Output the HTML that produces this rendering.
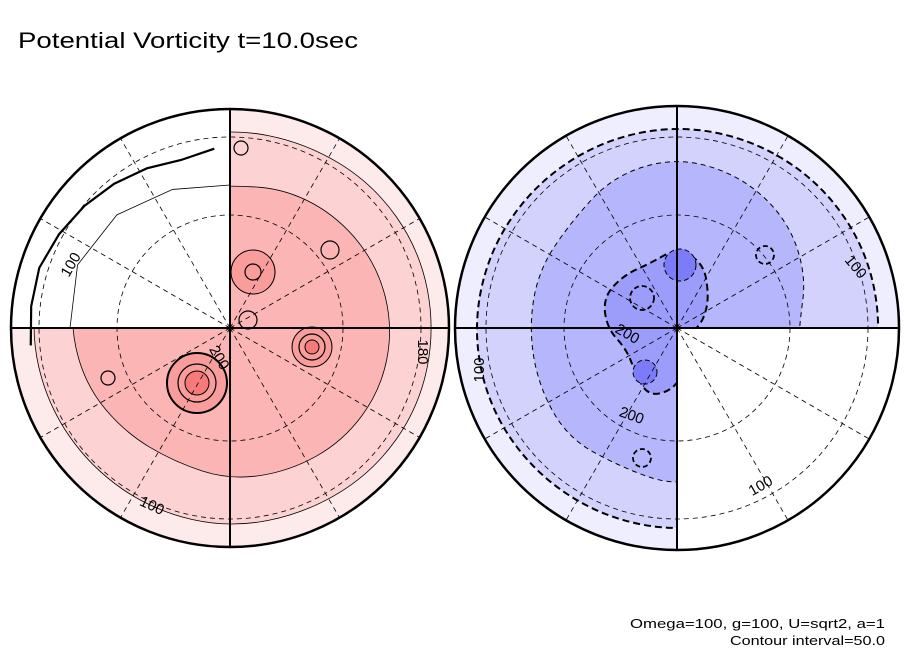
<!DOCTYPE html>
<html><head><meta charset="utf-8">
<style>
html,body{margin:0;padding:0;background:#fff;}
svg{display:block;font-family:"Liberation Sans",sans-serif;}
</style></head>
<body>
<svg id="c" width="904" height="654" viewBox="0 0 904 654">
<text x="18" y="48" font-size="22" textLength="340" lengthAdjust="spacingAndGlyphs">Potential Vorticity t=10.0sec</text>
<text x="885" y="628" font-size="13" text-anchor="end" textLength="255" lengthAdjust="spacingAndGlyphs">Omega=100, g=100, U=sqrt2, a=1</text>
<text x="885" y="645" font-size="13" text-anchor="end" textLength="155" lengthAdjust="spacingAndGlyphs">Contour interval=50.0</text>
<g id="left"></g>
<g id="right"></g>
</svg>
<script>
// contour levels and boundary radii (pixel radius sampled every 22.5 deg, ccw from east)
const levels = [100, 150, 200, 250, 300];
const leftOuter = [205,205,203,200,200,198,198,200,200,198,197,198,200,200,203,205];
const leftMid = [163,160,155,150,143,150,160,165,160,155,148,145,152,155,160,163];
const leftNW100 = [200,200,200,195,190,185,180,175,180];
const rightOuter = [205,205,204,203,203,202,202,203,204,204,203,203,204,204,205,205];
const rightMid = [122,140,155,165,171,165,150,150,148,150,155,150,159,150,140,130];
const rightInner = [20,30,45,70,80,70,75,80,70,55,60,75,60,30,15,15];
const leftBlobs = [[197,383,30,'#f99c9c'],[197,383,12,'#f77a7a'],[253,272,22,'#f99c9c'],[312,347,20,'#f99c9c'],[312,347,7,'#f77a7a']];
const rightBlobs = [[680,265,16,'#7c7cf8'],[645,372,12,'#7c7cf8']];
const rings = [[248,320,9],[330,250,9],[108,378,7],[253,272,8],[197,383,19],[312,347,13],[241,148,7]];
const rRings = [[642,298,12],[765,255,9],[838,378,16],[790,372,22],[642,458,9]];

const NS='http://www.w3.org/2000/svg';
function mk(tag,attrs,parent){const e=document.createElementNS(NS,tag);for(const k in attrs)e.setAttribute(k,attrs[k]);parent.appendChild(e);return e;}
function blobPath(cx,cy,rad){
  const n=rad.length,pts=[];
  for(let i=0;i<n;i++){const a=i*2*Math.PI/n;pts.push([cx+rad[i]*Math.cos(a),cy-rad[i]*Math.sin(a)]);}
  let d='';
  for(let i=0;i<n;i++){const p=pts[i],q=pts[(i+1)%n];const m=[(p[0]+q[0])/2,(p[1]+q[1])/2];
    if(i===0){const pm=pts[n-1];d+='M'+((pm[0]+p[0])/2)+','+((pm[1]+p[1])/2);}
    d+=' Q'+p[0]+','+p[1]+' '+m[0]+','+m[1];}
  return d+'Z';
}
function arcPath(cx,cy,rad,a0,a1){
  let d='';const n=rad.length;
  for(let i=0;i<n;i++){const a=(a0+(a1-a0)*i/(n-1))*Math.PI/180;
    d+=(i?' L':'M')+(cx+rad[i]*Math.cos(a))+','+(cy-rad[i]*Math.sin(a));}
  return d;
}
function panel(g,cx,cy,R,cols,outer,mid,inner,blobs,maskQuad,dashed,ringsList,labels,id){
  const defs=mk('defs',{},g);
  const cp=mk('clipPath',{id:'cp'+id},defs);mk('circle',{cx:cx,cy:cy,r:R},cp);
  const inner_g=mk('g',{'clip-path':'url(#cp'+id+')'},g);
  let e=mk('circle',{cx:cx,cy:cy,r:R,fill:cols[0]},inner_g);
  
  e=mk('path',{d:blobPath(cx,cy,outer),fill:cols[1],stroke:'#000','stroke-width':dashed?2:0.8,'stroke-dasharray':dashed?'7 4':'none'},inner_g);
  
  e=mk('path',{d:blobPath(cx,cy,mid),fill:cols[2],stroke:'#000','stroke-width':dashed?1:0.8,'stroke-dasharray':dashed?'5 4':'none'},inner_g);
  
  if(inner){e=mk('path',{d:blobPath(cx,cy,inner),fill:cols[3],stroke:'#000','stroke-width':2,'stroke-dasharray':'7 4'},inner_g);
    }
  blobs.forEach(b=>{const c=mk('circle',{cx:b[0],cy:b[1],r:b[2],fill:b[3],stroke:'#000','stroke-width':b[2]>25?2:1,'stroke-dasharray':dashed?'5 3':'none'},inner_g);
    });
  ringsList.forEach(b=>{const c=mk('circle',{cx:b[0],cy:b[1],r:b[2],fill:'none',stroke:'#000','stroke-width':dashed?1.8:1.2,'stroke-dasharray':dashed?'5 3':'none'},inner_g);
    });
  const qx=maskQuad[0]<0?cx-R:cx, qy=maskQuad[1]<0?cy-R:cy;
  e=mk('rect',{x:qx,y:qy,width:R,height:R,fill:'#fff'},inner_g);
  
  if(!dashed){
    e=mk('path',{d:arcPath(cx,cy,leftNW100,185,95),fill:'none',stroke:'#000','stroke-width':2.2},inner_g);
    
    e=mk('path',{d:arcPath(cx,cy,leftMid.slice(4,9),90,180),fill:'none',stroke:'#000','stroke-width':0.8},inner_g);
    
  }
  [113,191].forEach(r=>{const c=mk('circle',{cx:cx,cy:cy,r:r,fill:'none',stroke:'#000','stroke-width':0.8,'stroke-dasharray':'5 4'},g);
    });
  for(let a=30;a<360;a+=30){if(a%90===0)continue;const t=a*Math.PI/180;
    const l=mk('line',{x1:cx,y1:cy,x2:cx+R*Math.cos(t),y2:cy-R*Math.sin(t),stroke:'#000','stroke-width':0.8,'stroke-dasharray':'5 4'},g);
    }
  let l=mk('line',{x1:cx-R,y1:cy,x2:cx+R,y2:cy,stroke:'#000','stroke-width':2},g);
  
  l=mk('line',{x1:cx,y1:cy-R,x2:cx,y2:cy+R,stroke:'#000','stroke-width':2},g);
  
  const o=mk('circle',{cx:cx,cy:cy,r:R,fill:'none',stroke:'#000','stroke-width':2.5},g);
  
  labels.forEach(t=>{const tx=mk('text',{x:t[0],y:t[1],'font-size':15,transform:'rotate('+t[3]+' '+t[0]+' '+t[1]+')','text-anchor':'middle'},g);
    tx.textContent=t[2];});
}
panel(document.getElementById('left'),230,328,219,['#fdeaea','#fdd2d2','#fbb5b5'],leftOuter,leftMid,null,leftBlobs,[-1,-1],false,rings,
  [[75,267,'100',-60],[215,360,'200',60],[150,510,'100',25],[418,352,'180',90]],'L');
panel(document.getElementById('right'),677,328,222,['#eeeefe','#d2d2fd','#b6b6fc','#9c9cfa'],rightOuter,rightMid,rightInner,rightBlobs,[1,1],true,rRings,
  [[852,270,'100',50],[630,420,'200',20],[625,338,'200',30],[763,490,'100',-30],[484,370,'100',-90]],'R');
</script>
</body></html>
